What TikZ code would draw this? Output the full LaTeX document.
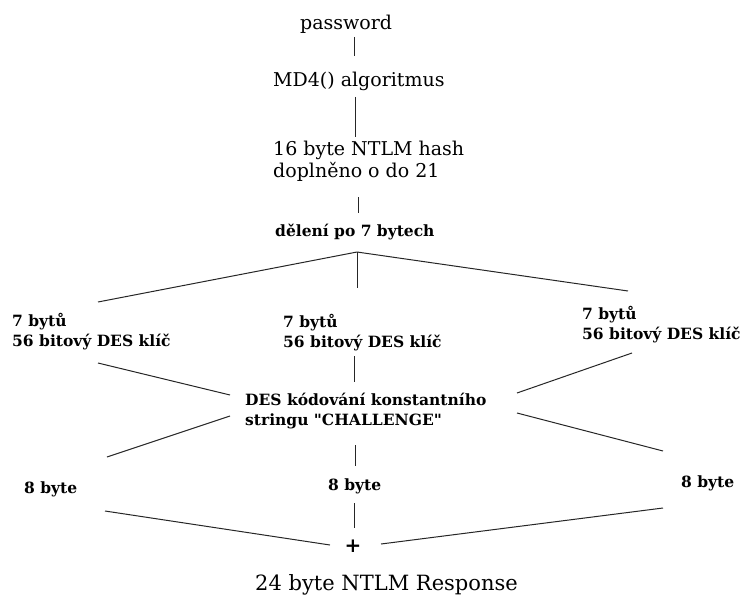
\documentclass[tikz,border=0pt]{standalone}
\usepackage{fontspec}
\setmainfont{DejaVu Serif}
\usepackage{tikz}

\begin{document}
\begin{tikzpicture}[
    x=1pt, y=-1pt,
    lbl/.style={anchor=west, align=left, inner sep=0pt, font=\fontsize{19}{22}\selectfont},
    key/.style={anchor=west, align=left, inner sep=0pt, font=\fontsize{15.5}{20}\selectfont\bfseries},
    link/.style={line width=1pt, black!85}
]
    \useasboundingbox (0,0) rectangle (746,599);

    % Hash chain
    \node[lbl] (pw) at (300,24) {password};
    \node[lbl] (md4) at (273,81) {MD4() algoritmus};
    \node[lbl] (hash) at (273,161) {16 byte NTLM hash\\doplněno o do 21};
    \node[key] (split) at (275,232) {dělení po 7 bytech};
    \coordinate (apex) at ([shift={(82,20)}]split.west);

    % DES keys
    \node[key] (key1) at (12,332) {7 bytů\\56 bitový DES klíč};
    \node[key] (key2) at (283,333) {7 bytů\\56 bitový DES klíč};
    \node[key] (key3) at (582,325) {7 bytů\\56 bitový DES klíč};
    \node[key] (des) at (245,411) {DES kódování konstantního\\stringu \textquotedbl CHALLENGE\textquotedbl};

    % Output blocks
    \node[key] (b1) at (24,489) {8 byte};
    \node[key] (b2) at (328,486) {8 byte};
    \node[key] (b3) at (681,483) {8 byte};
    \node[inner sep=0pt, font=\fontsize{20}{20}\selectfont\bfseries] (plus) at (353,546) {+};
    \node[lbl, font=\fontsize{21}{24}\selectfont] (resp) at (255,585) {24 byte NTLM Response};

    % Lines
    \draw[link] ([shift={(54,13)}]pw.west) -- ([shift={(81,-25)}]md4.west);
    \draw[link] ([shift={(82,16)}]md4.west) -- ([shift={(82,-24)}]hash.west);
    \draw[link] ([shift={(85,36)}]hash.west) -- ([shift={(83,-19)}]split.west);
    \draw[link] (apex) -- ([shift={(86,-30)}]key1.west);
    \draw[link] (apex) -- ([shift={(74,-45)}]key2.west);
    \draw[link] (apex) -- ([shift={(46,-34)}]key3.west);

    \draw[link] ([shift={(86,31)}]key1.west) -- ([shift={(-15,-16)}]des.west);
    \draw[link] ([shift={(71,23)}]key2.west) -- ([shift={(109,-29)}]des.west);
    \draw[link] ([shift={(50,28)}]key3.west) -- ([shift={(272,-18)}]des.west);

    \draw[link] ([shift={(-15,5)}]des.west) -- ([shift={(83,-32)}]b1.west);
    \draw[link] ([shift={(110,34)}]des.west) -- ([shift={(27,-20)}]b2.west);
    \draw[link] ([shift={(272,2)}]des.west) -- ([shift={(-18,-32)}]b3.west);

    \draw[link] ([shift={(81,22)}]b1.west) -- ([shift={(-23,-1)}]plus.center);
    \draw[link] ([shift={(26,17)}]b2.west) -- ([shift={(1,-18)}]plus.center);
    \draw[link] ([shift={(-18,25)}]b3.west) -- ([shift={(28,-2)}]plus.center);
\end{tikzpicture}
\end{document}
